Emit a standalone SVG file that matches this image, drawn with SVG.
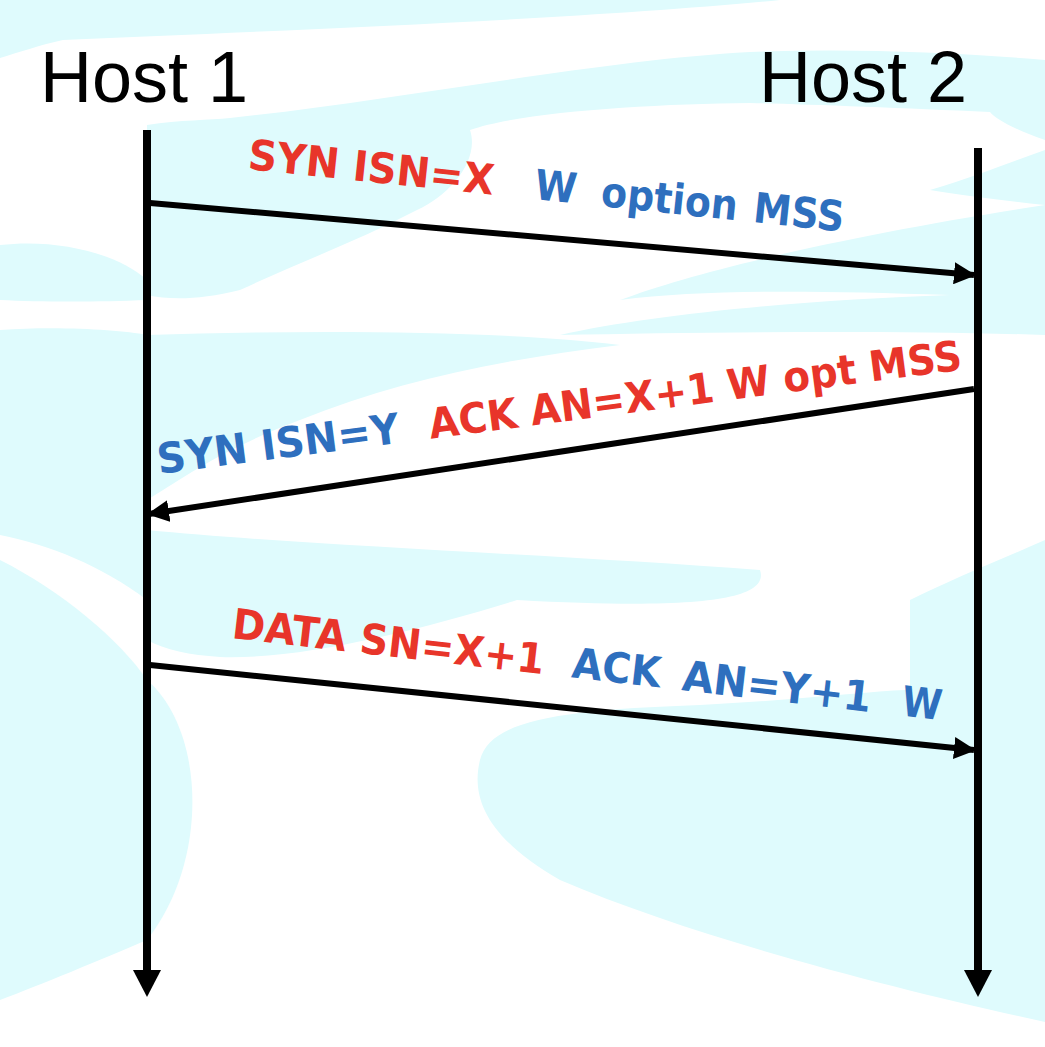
<svg xmlns="http://www.w3.org/2000/svg" width="1045" height="1047" viewBox="0 0 1045 1047">
<style>
.bg{fill:#dffbfd;stroke:none}
.host{font-family:"Liberation Sans",Arial,sans-serif;font-size:72px;fill:#000}
.lbl{font-family:"DejaVu Sans",Verdana,sans-serif;font-weight:bold;font-size:42px}
.red{fill:#e8352a}
.blue{fill:#2e6fbe}
.life{stroke:#000;stroke-width:8;fill:none}
.msg{stroke:#000;stroke-width:6;fill:none}
</style>
<defs>
<marker id="ah" markerUnits="userSpaceOnUse" markerWidth="22" markerHeight="22" refX="20" refY="11" orient="auto" viewBox="0 0 22 22">
<path d="M0,0 L22,11 L0,22 Z" fill="#000"/>
</marker>
</defs>
<rect x="0" y="0" width="1045" height="1047" fill="#fff"/>
<g id="background">
<path class="bg" d="M0,0 L780,0 C600,18 300,30 63,40 C40,45 20,52 0,58 Z"/>
<path class="bg" d="M230,118 C400,100 600,60 750,52 C850,48 950,52 1045,60 L1045,140 C1010,128 995,118 990,112 C900,108 800,104 750,103 C650,104 520,112 470,130 C480,160 450,195 417,210 C360,240 300,262 240,290 C200,300 170,300 147,295 L147,125 C180,120 210,120 230,118 Z"/>
<path class="bg" d="M1045,150 L1045,335 C900,330 700,332 560,335 C650,315 800,300 950,295 C800,290 700,290 620,300 C700,270 850,235 1045,205 C1000,200 960,195 930,190 C980,175 1010,162 1045,150 Z"/>
<path class="bg" d="M0,245 C60,238 120,255 147,280 L147,300 C100,302 40,302 0,300 Z"/>
<path class="bg" d="M0,330 C60,326 120,330 147,335 L147,600 C100,565 50,545 0,535 Z"/>
<path class="bg" d="M147,335 C300,330 500,330 620,345 C500,360 400,380 300,420 C220,450 180,480 147,500 Z"/>
<path class="bg" d="M147,530 C300,545 560,555 760,570 C770,600 700,610 517,600 C420,630 300,660 220,657 C190,655 165,650 147,640 Z"/>
<path class="bg" d="M1045,540 L1045,1022 C900,990 700,940 560,880 C490,840 470,800 480,760 C490,720 560,710 700,705 C800,700 880,690 910,690 L910,600 C950,580 1000,560 1045,540 Z"/>
<path class="bg" d="M0,560 C60,590 120,640 147,680 L147,940 C100,960 40,985 0,1000 Z"/>
<path class="bg" d="M147,680 C205,730 210,860 147,940 Z"/>
</g>
<g id="host1">
<text class="host" x="40" y="102">Host 1</text>
</g>
<g id="host2">
<text class="host" x="759" y="102">Host 2</text>
</g>
<g id="connectors">
<line class="life" x1="147" y1="130" x2="147" y2="972"/>
<polygon points="133,970 161,970 147,997" fill="#000"/>
<line class="life" x1="978" y1="148" x2="978" y2="972"/>
<polygon points="964,970 992,970 978,997" fill="#000"/>
<line class="msg" x1="150" y1="203" x2="974" y2="275" marker-end="url(#ah)"/>
<line class="msg" x1="974" y1="389" x2="149" y2="514" marker-end="url(#ah)"/>
<line class="msg" x1="150" y1="665" x2="974" y2="750" marker-end="url(#ah)"/>
</g>
<g id="label1" transform="translate(247,169) rotate(6)">
<text class="lbl red" x="0" y="0" textLength="247" lengthAdjust="spacingAndGlyphs">SYN ISN=X</text>
<text class="lbl blue" x="288" y="0" textLength="42" lengthAdjust="spacingAndGlyphs">W</text>
<text class="lbl blue" x="355" y="0" textLength="137" lengthAdjust="spacingAndGlyphs">option</text>
<text class="lbl blue" x="508" y="0" textLength="91" lengthAdjust="spacingAndGlyphs">MSS</text>
</g>
<g id="label2" transform="translate(159,474) rotate(-7.4)">
<text class="lbl blue" x="0" y="0" textLength="244" lengthAdjust="spacingAndGlyphs">SYN ISN=Y</text>
<text class="lbl red" x="274" y="0" textLength="537" lengthAdjust="spacingAndGlyphs">ACK AN=X+1 W opt MSS</text>
</g>
<g id="label3" transform="translate(231,638) rotate(6.6)">
<text class="lbl red" x="0" y="0" textLength="314" lengthAdjust="spacingAndGlyphs">DATA SN=X+1</text>
<text class="lbl blue" x="342" y="0" textLength="89" lengthAdjust="spacingAndGlyphs">ACK</text>
<text class="lbl blue" x="453" y="0" textLength="190" lengthAdjust="spacingAndGlyphs">AN=Y+1</text>
<text class="lbl blue" x="674" y="0" textLength="40" lengthAdjust="spacingAndGlyphs">W</text>
</g>
</svg>
